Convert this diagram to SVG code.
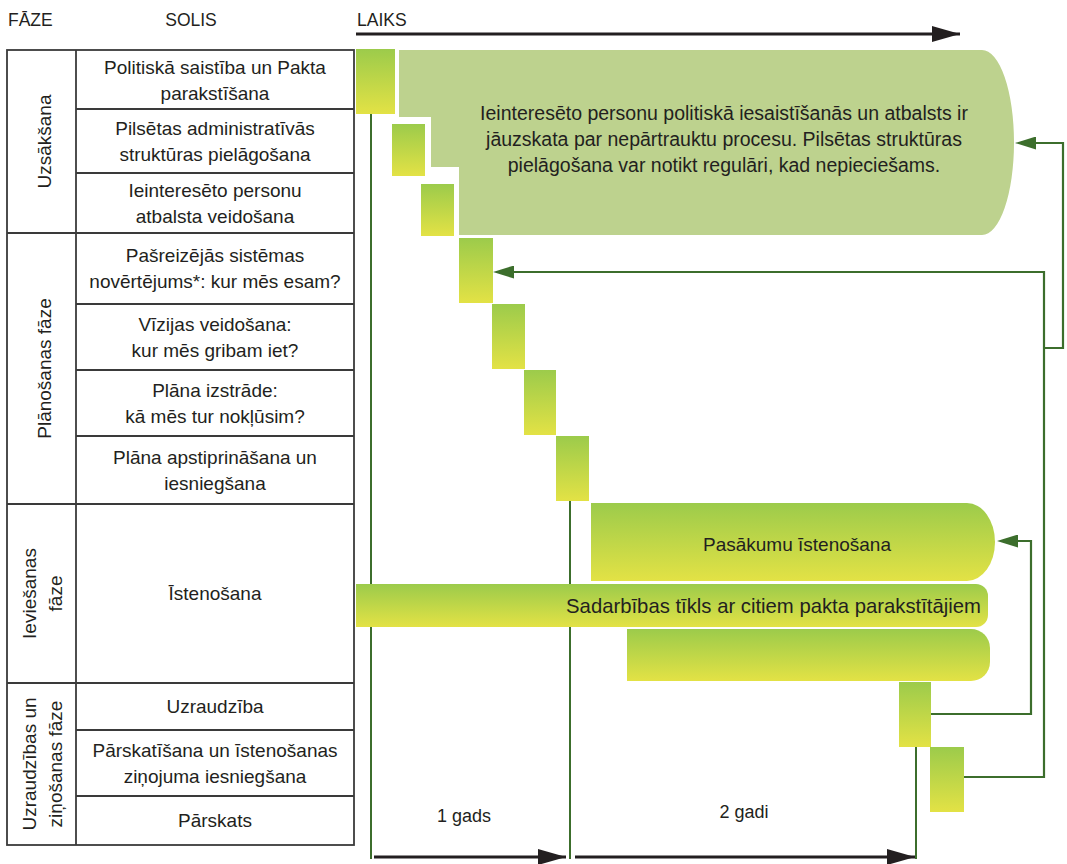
<svg xmlns="http://www.w3.org/2000/svg" width="1067" height="864" viewBox="0 0 1067 864">
  <style>
    .t { font-family: "Liberation Sans", Arial, sans-serif; font-size: 19px; fill: #231f20; }
    .c { text-anchor: middle; }
    .h { font-size: 17.5px; }
    .grid { fill: none; stroke: #3a3a3a; stroke-width: 1.8; }
    .tl { stroke: #3c6e2c; stroke-width: 2; fill: none; }
    .fb { stroke: #3c6e2c; stroke-width: 2.2; fill: none; marker-end: url(#gh); }
    .ax { stroke: #231f20; stroke-width: 3; fill: none; marker-end: url(#bh); }
    .bar { fill: url(#gr); }
    .pale { fill: #bdd28e; }
  </style>
  <defs>
    <linearGradient id="gr" x1="0" y1="0" x2="0" y2="1">
      <stop offset="0" stop-color="#9ccb4b"/>
      <stop offset="1" stop-color="#e3e245"/>
    </linearGradient>
    <marker id="gh" viewBox="0 0 21 13" refX="0" refY="6.5" markerWidth="21" markerHeight="13" markerUnits="userSpaceOnUse" orient="auto">
      <path d="M0,0 L21,6.5 L0,13 Z" fill="#3c6e2c"/>
    </marker>
    <marker id="bh" viewBox="0 0 28 16" refX="28" refY="8" markerWidth="28" markerHeight="16" markerUnits="userSpaceOnUse" orient="auto">
      <path d="M0,0 L28,8 L0,16 Z" fill="#231f20"/>
    </marker>
  </defs>

  <!-- column headers -->
  <g id="headers">
    <text class="t h" x="8" y="26">FĀZE</text>
    <text class="t h c" x="191" y="26">SOLIS</text>
    <text class="t h" x="357" y="26">LAIKS</text>
  </g>

  <!-- table grid -->
  <g id="table">
    <rect class="grid" x="7" y="50" width="347" height="795"/>
    <line class="grid" x1="76" y1="50" x2="76" y2="845"/>
    <path class="grid" d="M7,233 H354 M7,504 H354 M7,683 H354 M76,109 H354 M76,173 H354 M76,304 H354 M76,370 H354 M76,436 H354 M76,730 H354 M76,796 H354"/>
  </g>

  <!-- phases -->
  <g id="phase-start">
    <text class="t c" transform="translate(51,141.5) rotate(-90)">Uzsākšana</text>
  </g>
  <g id="phase-plan">
    <text class="t c" transform="translate(51,368.5) rotate(-90)">Plānošanas fāze</text>
  </g>
  <g id="phase-impl">
    <text class="t c" transform="translate(36,593.5) rotate(-90)">Ieviešanas</text>
    <text class="t c" transform="translate(62,593.5) rotate(-90)">fāze</text>
  </g>
  <g id="phase-monitor">
    <text class="t c" transform="translate(36,764) rotate(-90)">Uzraudzības un</text>
    <text class="t c" transform="translate(62,764) rotate(-90)">ziņošanas fāze</text>
  </g>

  <!-- steps -->
  <g id="step-1"><text class="t c" x="215" y="74">Politiskā saistība un Pakta</text><text class="t c" x="215" y="100">parakstīšana</text></g>
  <g id="step-2"><text class="t c" x="215" y="134.5">Pilsētas administratīvās</text><text class="t c" x="215" y="160.5">struktūras pielāgošana</text></g>
  <g id="step-3"><text class="t c" x="215" y="196.5">Ieinteresēto personu</text><text class="t c" x="215" y="222.5">atbalsta veidošana</text></g>
  <g id="step-4"><text class="t c" x="215" y="262">Pašreizējās sistēmas</text><text class="t c" x="215" y="288">novērtējums*: kur mēs esam?</text></g>
  <g id="step-5"><text class="t c" x="215" y="330.5">Vīzijas veidošana:</text><text class="t c" x="215" y="356.5">kur mēs gribam iet?</text></g>
  <g id="step-6"><text class="t c" x="215" y="396.5">Plāna izstrāde:</text><text class="t c" x="215" y="422.5">kā mēs tur nokļūsim?</text></g>
  <g id="step-7"><text class="t c" x="215" y="463.5">Plāna apstiprināšana un</text><text class="t c" x="215" y="489.5">iesniegšana</text></g>
  <g id="step-8"><text class="t c" x="215" y="600">Īstenošana</text></g>
  <g id="step-9"><text class="t c" x="215" y="713">Uzraudzība</text></g>
  <g id="step-10"><text class="t c" x="215" y="756.5">Pārskatīšana un īstenošanas</text><text class="t c" x="215" y="782.5">ziņojuma iesniegšana</text></g>
  <g id="step-11"><text class="t c" x="215" y="827">Pārskats</text></g>

  <!-- time axes and milestone lines -->
  <g id="timeline">
    <path class="ax" d="M356,34 H960"/>
    <path class="tl" d="M371,114 V859 M570,501 V859 M916,747 V859"/>
    <path class="ax" d="M374,857 H566"/>
    <path class="ax" d="M575,857 H915"/>
    <text class="t c" style="font-size:18px" x="464" y="822">1 gads</text>
    <text class="t c" style="font-size:18px" x="744" y="818">2 gadi</text>
  </g>

  <!-- continuous process block -->
  <g id="continuous">
    <path class="pale" d="M399,50 H982 A32,92.5 0 0 1 982,235 H459 V167 H431 V117 H399 Z"/>
    <text class="t c" style="font-size:19.5px" x="724" y="120">Ieinteresēto personu politiskā iesaistīšanās un atbalsts ir</text>
    <text class="t c" style="font-size:19.5px" x="724" y="146">jāuzskata par nepārtrauktu procesu. Pilsētas struktūras</text>
    <text class="t c" style="font-size:19.5px" x="724" y="172">pielāgošana var notikt regulāri, kad nepieciešams.</text>
  </g>

  <!-- step bars -->
  <g id="bars">
    <rect class="bar" x="356" y="49" width="39" height="65"/>
    <rect class="bar" x="392" y="124" width="33" height="52"/>
    <rect class="bar" x="421" y="184" width="33" height="52"/>
    <rect class="bar" x="459" y="238" width="34" height="65"/>
    <rect class="bar" x="492" y="304" width="33" height="65"/>
    <rect class="bar" x="524" y="370" width="32" height="65"/>
    <rect class="bar" x="556" y="436" width="33" height="65"/>
    <rect class="bar" x="899" y="682" width="32" height="65"/>
    <rect class="bar" x="930" y="747" width="34" height="65"/>
  </g>

  <!-- implementation bars -->
  <g id="actions">
    <path class="bar" d="M591,503 H967 A28,39 0 0 1 967,581 H591 Z"/>
    <text class="t c" x="797" y="551">Pasākumu īstenošana</text>
  </g>
  <g id="network">
    <path class="bar" d="M356,584 H976 A12,12 0 0 1 988,596 V615 A12,12 0 0 1 976,627 H356 Z"/>
    <text class="t c" style="font-size:20.3px" x="773.5" y="612.5">Sadarbības tīkls ar citiem pakta parakstītājiem</text>
  </g>
  <g id="extra-bar">
    <path class="bar" d="M627,629 H971 A19,19 0 0 1 990,648 V662 A19,19 0 0 1 971,681 H627 Z"/>
  </g>

  <!-- feedback loops -->
  <g id="connectors">
    <path class="fb" d="M964,777 H1044 V272 H514"/>
    <path class="fb" d="M931,714 H1031 V541 H1018"/>
    <path class="fb" d="M1044,348 H1063 V143 H1036"/>
  </g>
</svg>
